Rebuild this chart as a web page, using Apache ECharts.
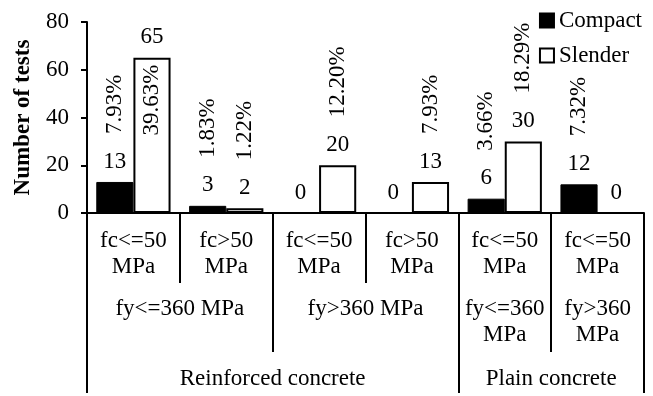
<!DOCTYPE html>
<html>
<head>
<meta charset="utf-8">
<script src="https://cdn.jsdelivr.net/npm/echarts@6/dist/echarts.min.js"></script>
<style>
html,body{margin:0;padding:0;background:#fff;}
#chart{width:653px;height:396px;}
</style>
</head>
<body>
<div id="chart"></div>
<script>
// ---- data ----
var categories = ['fc<=50\nMPa', 'fc>50\nMPa', 'fc<=50\nMPa', 'fc>50\nMPa', 'fc<=50\nMPa', 'fc<=50\nMPa'];
var compact = [13, 3, 0, 0, 6, 12];
var slender = [65, 2, 20, 13, 30, 0];
var compactPct = [7.93, 1.83, null, null, 3.66, 7.32];
var slenderPct = [39.63, 1.22, 12.20, 7.93, 18.29, null];
var level2Names = ['fy<=360 MPa', 'fy>360 MPa', 'fy<=360\nMPa', 'fy>360\nMPa'];
var level2Spans = [2, 2, 1, 1];
var level3Names = ['Reinforced concrete', 'Plain concrete'];
var level3Spans = [4, 2];
var yTicks = [0, 20, 40, 60, 80];

// ---- helpers ----
var FONT = 'Liberation Serif';
var FS = 23;
function buildLevel(names, spans) {
  var n = categories.length * 2 + 1;
  var labels = [];
  for (var i = 0; i < n; i++) labels.push('');
  var bounds = {0: true};
  var s = 0;
  for (var k = 0; k < names.length; k++) {
    labels[2 * s + spans[k]] = names[k];
    s += spans[k];
    bounds[2 * s] = true;
  }
  return {labels: labels, bounds: bounds};
}
var lv2 = buildLevel(level2Names, level2Spans);
var lv3 = buildLevel(level3Names, level3Spans);

function pctText(v) { return v == null ? '' : v.toFixed(2) + '%'; }
function mainData(vals) {
  return vals.map(function (v) {
    return v > 50 ? {value: v, label: {position: 'inside'}} : v;
  });
}
var zeros = categories.map(function () { return 0; });

var pctLabel = function (arr) {
  return {
    show: true, position: 'top', distance: 48, rotate: 90,
    align: 'left', verticalAlign: 'middle',
    color: '#000', fontFamily: FONT, fontSize: FS,
    formatter: function (p) { return pctText(arr[p.dataIndex]); }
  };
};
var countLabel = function (arr) {
  return {
    show: true, position: 'top', distance: 9,
    color: '#000', fontFamily: FONT, fontSize: FS,
    formatter: function (p) { return String(arr[p.dataIndex]); }
  };
};

var chart = echarts.init(document.getElementById('chart'), null, {renderer: 'canvas'});
var option = {
  animation: false,
  backgroundColor: '#fff',
  grid: {left: 87, right: 9, top: 22, bottom: 183, containLabel: false},
  legend: {
    data: ['Compact', 'Slender'],
    orient: 'vertical', right: 11, top: 9, padding: 0,
    itemWidth: 14, itemHeight: 14, itemGap: 12,
    icon: 'rect',
    textStyle: {color: '#000', fontFamily: FONT, fontSize: FS}
  },
  xAxis: [
    {
      type: 'category', data: categories, position: 'bottom',
      axisLine: {show: true, lineStyle: {color: '#000', width: 2}},
      axisTick: {show: true, interval: 0, length: 70, lineStyle: {color: '#000', width: 2}},
      axisLabel: {show: true, interval: 0, margin: 15, lineHeight: 26,
        color: '#000', fontFamily: FONT, fontSize: FS},
      splitLine: {show: false}
    },
    {
      type: 'category', data: lv2.labels, boundaryGap: false, position: 'bottom', offset: 0,
      axisLine: {show: false},
      axisTick: {show: true, length: 139, interval: function (i) { return !!lv2.bounds[i]; },
        lineStyle: {color: '#000', width: 2}},
      axisLabel: {show: true, interval: 0, margin: 83, lineHeight: 26,
        color: '#000', fontFamily: FONT, fontSize: FS},
      splitLine: {show: false}
    },
    {
      type: 'category', data: lv3.labels, boundaryGap: false, position: 'bottom', offset: 0,
      axisLine: {show: false},
      axisTick: {show: true, length: 180, interval: function (i) { return !!lv3.bounds[i]; },
        lineStyle: {color: '#000', width: 2}},
      axisLabel: {show: true, interval: 0, margin: 153, lineHeight: 26,
        color: '#000', fontFamily: FONT, fontSize: FS},
      splitLine: {show: false}
    }
  ],
  yAxis: {
    type: 'value', min: yTicks[0], max: yTicks[yTicks.length - 1], interval: yTicks[1] - yTicks[0],
    name: 'Number of tests', nameLocation: 'middle', nameGap: 52,
    nameTextStyle: {color: '#000', fontFamily: FONT, fontSize: 23, fontWeight: 'bold'},
    axisLine: {show: true, lineStyle: {color: '#000', width: 2}},
    axisTick: {show: true, length: 6, lineStyle: {color: '#000', width: 2}},
    axisLabel: {margin: 18, color: '#000', fontFamily: FONT, fontSize: FS},
    splitLine: {show: false}
  },
  series: [
    {
      name: 'Compact', type: 'bar', stack: 'c', stackStrategy: 'all',
      data: mainData(compact), barGap: '0%', barCategoryGap: '20%',
      itemStyle: {color: '#000', borderColor: '#000', borderWidth: 1},
      label: pctLabel(compactPct)
    },
    {
      name: 'CompactCount', type: 'bar', stack: 'c', stackStrategy: 'all',
      data: zeros, itemStyle: {color: 'rgba(0,0,0,0)'},
      label: countLabel(compact), silent: true
    },
    {
      name: 'Slender', type: 'bar', stack: 's', stackStrategy: 'all',
      data: mainData(slender), barGap: '0%', barCategoryGap: '20%',
      itemStyle: {color: '#fff', borderColor: '#000', borderWidth: 2},
      label: pctLabel(slenderPct)
    },
    {
      name: 'SlenderCount', type: 'bar', stack: 's', stackStrategy: 'all',
      data: zeros, itemStyle: {color: 'rgba(0,0,0,0)'},
      label: countLabel(slender), silent: true
    }
  ]
};
chart.setOption(option);
</script>
</body>
</html>
